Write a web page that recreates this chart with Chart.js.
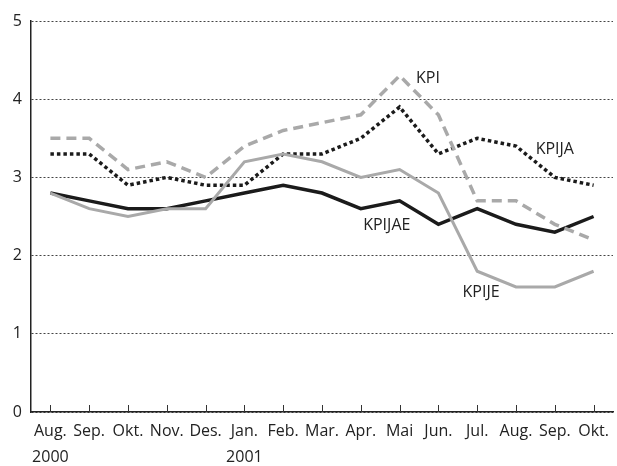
<!DOCTYPE html>
<html>
<head>
<meta charset="utf-8">
<script src="https://cdn.jsdelivr.net/npm/chart.js@4/dist/chart.umd.min.js"></script>
<style>
  html, body { margin: 0; padding: 0; background: #fff; }
  #wrap { width: 617px; height: 466px; position: relative; }
</style>
</head>
<body>
<div id="wrap"><canvas id="chart"></canvas></div>
<script>
// Months Aug 2000 - Okt 2001
const months = ['Aug.', 'Sep.', 'Okt.', 'Nov.', 'Des.', 'Jan.', 'Feb.', 'Mar.', 'Apr.', 'Mai', 'Jun.', 'Jul.', 'Aug.', 'Sep.', 'Okt.'];
const years = ['2000', '', '', '', '', '2001', '', '', '', '', '', '', '', '', ''];

const kpi    = [3.5, 3.5, 3.1, 3.2, 3.0, 3.4, 3.6, 3.7, 3.8, 4.3, 3.8, 2.7, 2.7, 2.4, 2.2];
const kpija  = [3.3, 3.3, 2.9, 3.0, 2.9, 2.9, 3.3, 3.3, 3.5, 3.9, 3.3, 3.5, 3.4, 3.0, 2.9];
const kpijae = [2.8, 2.7, 2.6, 2.6, 2.7, 2.8, 2.9, 2.8, 2.6, 2.7, 2.4, 2.6, 2.4, 2.3, 2.5];
const kpije  = [2.8, 2.6, 2.5, 2.6, 2.6, 3.2, 3.3, 3.2, 3.0, 3.1, 2.8, 1.8, 1.6, 1.6, 1.8];

const yTicks = [0, 1, 2, 3, 4, 5];

// series labels placed in data space: [text, category index, value]
const seriesLabels = [
    ['KPI', 9.73, 4.26],
    ['KPIJA', 13.0, 3.36],
    ['KPIJAE', 8.67, 2.38],
    ['KPIJE', 11.1, 1.53]
];

const gray = '#a9a9a9';
const black = '#1b1b1b';
const fontFamily = '"Open Sans", "Noto Sans", sans-serif';

// small upward ticks on x axis + series labels
const extras = {
    id: 'extras',
    afterDatasetsDraw(chart) {
        const { ctx, scales: { x, y }, chartArea } = chart;
        ctx.save();
        ctx.strokeStyle = '#333';
        ctx.lineWidth = 1;
        months.forEach((m, i) => {
            const px = Math.round(x.getPixelForValue(i)) + 0.5;
            ctx.beginPath();
            ctx.moveTo(px, chartArea.bottom);
            ctx.lineTo(px, chartArea.bottom - 7);
            ctx.stroke();
        });
        ctx.fillStyle = '#222';
        ctx.font = '16px ' + fontFamily;
        ctx.textAlign = 'center';
        ctx.textBaseline = 'middle';
        seriesLabels.forEach(([t, xi, v]) => {
            const px = x.left + (xi + 0.5) * (x.width / months.length);
            ctx.fillText(t, px, y.getPixelForValue(v));
        });
        ctx.restore();
    }
};

new Chart(document.getElementById('chart'), {
    type: 'line',
    data: {
        labels: months.map((m, i) => [m, years[i]]),
        datasets: [
            { label: 'KPIJE', data: kpije, borderColor: gray, borderWidth: 3 },
            { label: 'KPI', data: kpi, borderColor: gray, borderWidth: 3.5, borderDash: [10, 6] },
            { label: 'KPIJA', data: kpija, borderColor: black, borderWidth: 3.5, borderDash: [3.5, 3] },
            { label: 'KPIJAE', data: kpijae, borderColor: black, borderWidth: 3.5 }
        ].map(ds => ({ ...ds, pointRadius: 0, tension: 0, fill: false, borderJoinStyle: 'miter' }))
    },
    options: {
        responsive: true,
        maintainAspectRatio: false,
        animation: false,
        layout: { padding: { top: 21, right: 4, left: 0, bottom: 0 } },
        plugins: { legend: { display: false }, tooltip: { enabled: false } },
        scales: {
            x: {
                offset: true,
                grid: { display: false, drawTicks: false },
                border: { display: true, color: '#222', width: 1.5 },
                ticks: {
                    color: '#222',
                    padding: 7,
                    maxRotation: 0,
                    autoSkip: false,
                    font: { family: fontFamily, size: 16, lineHeight: 1.6 }
                },
                afterFit(s) { s.height = 54; }
            },
            y: {
                min: 0,
                max: 5,
                afterBuildTicks(s) { s.ticks = yTicks.map(v => ({ value: v })); },
                grid: {
                    color: '#444',
                    lineWidth: 1,
                    drawTicks: false
                },
                border: { display: true, color: '#222', width: 1.5, dash: [2, 2] },
                ticks: {
                    color: '#222',
                    padding: 9,
                    font: { family: fontFamily, size: 16 }
                },
                afterFit(s) { s.width = 31; }
            }
        }
    },
    plugins: [extras]
});
</script>
</body>
</html>
